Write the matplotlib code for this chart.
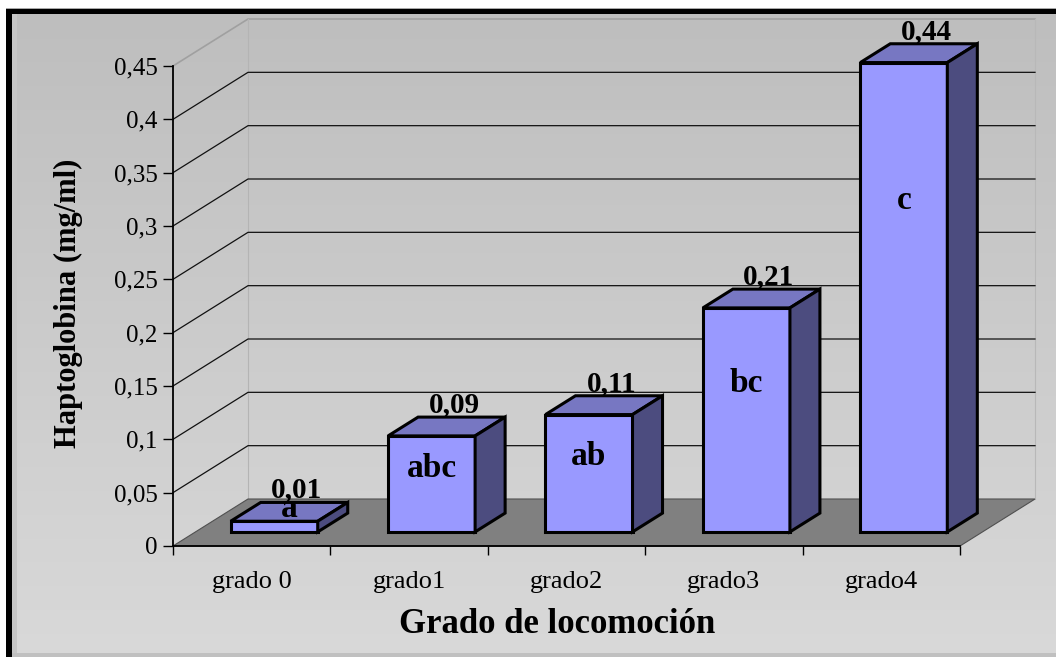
import numpy as np
import matplotlib
matplotlib.use("Agg")
import matplotlib.pyplot as plt
from matplotlib.patches import Polygon, Rectangle

# ---------------- data ----------------
categories = ["grado 0", "grado1", "grado2", "grado3", "grado4"]
values = [0.01, 0.09, 0.11, 0.21, 0.44]
value_labels = ["0,01", "0,09", "0,11", "0,21", "0,44"]
letters = ["a", "abc", "ab", "bc", "c"]
yticks = [0, 0.05, 0.1, 0.15, 0.2, 0.25, 0.3, 0.35, 0.4, 0.45]
ytick_labels = ["0", "0,05", "0,1", "0,15", "0,2", "0,25", "0,3", "0,35", "0,4", "0,45"]
y_title = "Haptoglobina (mg/ml)"
x_title = "Grado de locomoción"

# letter annotation anchors (depth plane, baseline height in data units)
letter_depth = [0.5, 0.3, 0.3, 0.3, 0.3]
letter_base = [0.005, 0.0516, 0.0628, 0.131, 0.303]

# ---------------- style / layout ----------------
W, H, DPI = 1056, 657, 100
SERIF = ["Liberation Serif", "DejaVu Serif"]
plt.rcParams["font.family"] = SERIF

fig = plt.figure(figsize=(W / DPI, H / DPI), dpi=DPI)
fig.patch.set_facecolor("white")

# background (gradient + frame)
bg = fig.add_axes([0, 0, 1, 1], zorder=0)
bg.set_xlim(0, W)
bg.set_ylim(H, 0)
bg.axis("off")
grad = np.linspace(0.745, 0.85, 256).reshape(-1, 1)
bg.imshow(np.dstack([grad, grad, grad]), extent=(12, W, 653, 13), aspect="auto",
          interpolation="bilinear")
bg.add_patch(Rectangle((12, 653), W - 12, 4, facecolor="#c0c0c0", edgecolor="none"))
bg.add_patch(Rectangle((12, 13), 5, 640, facecolor="#c6c6c6", edgecolor="none"))
bg.add_patch(Rectangle((6, 9), W - 6, 4.5, facecolor="black", edgecolor="none"))
bg.add_patch(Rectangle((6, 9), 6, H - 9, facecolor="black", edgecolor="none"))
bg.add_patch(Rectangle((6, 7.5), W - 6, 1.5, facecolor="#a8a8a8", edgecolor="none"))

# front plane of the 3D plot
L, R, B, T = 173, 960, 546, 66
ax = fig.add_axes([L / W, 1 - B / H, (R - L) / W, (B - T) / H], zorder=1)
ax.patch.set_visible(False)
ax.set_xlim(0, len(categories))
ax.set_ylim(0, 0.45)

# depth vector (full depth) in data units : 75 px right, 47 px up
DX = 75 * len(categories) / (R - L)
DY = 47 * 0.45 / (B - T)
PXY = 0.45 / (B - T)


def P(x, y, d):
    return (x + d * DX, y + d * DY)


# walls edges
ymax = yticks[-1]
ax.plot(*zip(P(0, ymax, 0), P(0, ymax, 1), P(len(categories), ymax, 1)),
        color="#a0a0a0", lw=1.2, clip_on=False, zorder=1)
ax.plot(*zip(P(0, 0, 1), P(0, ymax, 1)), color="#b4b4b4", lw=0.8, clip_on=False, zorder=1)
ax.plot(*zip(P(len(categories), 0, 1), P(len(categories), ymax, 1)),
        color="#b8b8b8", lw=0.8, clip_on=False, zorder=1)

# gridlines
for v in yticks[1:-1]:
    ax.plot(*zip(P(0, v, 0), P(0, v, 1), P(len(categories), v, 1)),
            color="#111111", lw=0.9, clip_on=False, zorder=1)

# floor
floor = Polygon([P(0, 0, 0), P(len(categories), 0, 0), P(len(categories), 0, 1), P(0, 0, 1)],
                closed=True, facecolor="#808080", edgecolor="#505050", lw=0.8,
                clip_on=False, zorder=2)
ax.add_patch(floor)

# bars
bw = 0.553
d0, d1 = 0.3, 0.7
front_c, top_c, side_c = "#9999ff", "#7777c2", "#4c4c7f"
for i, v in enumerate(values):
    c = i + 0.5
    xl, xr = c - bw / 2, c + bw / 2
    faces = [
        ([P(xl, 0, d0), P(xr, 0, d0), P(xr, v, d0), P(xl, v, d0)], front_c),
        ([P(xl, v, d0), P(xr, v, d0), P(xr, v, d1), P(xl, v, d1)], top_c),
        ([P(xr, 0, d0), P(xr, 0, d1), P(xr, v, d1), P(xr, v, d0)], side_c),
    ]
    for pts, col in faces:
        ax.add_patch(Polygon(pts, closed=True, facecolor=col, edgecolor="black",
                             lw=2.2, joinstyle="miter", clip_on=False, zorder=3 + i * 0.1))
    # value label
    lx = P(c, v, 0.6)[0]
    ly = P(c, v, d1)[1] + 5 * PXY
    ax.text(lx, ly, value_labels[i], ha="center", va="baseline", fontsize=21,
            fontweight="bold", color="black", zorder=6, clip_on=False)
    # letter label
    tx, ty = P(c, letter_base[i], letter_depth[i])
    ax.text(tx, ty, letters[i], ha="center", va="baseline", fontsize=24,
            fontweight="bold", color="black", zorder=6, clip_on=False)

# axes
for s in ["top", "right"]:
    ax.spines[s].set_visible(False)
for s in ["left", "bottom"]:
    ax.spines[s].set_color("black")
    ax.spines[s].set_linewidth(1.3)
    ax.spines[s].set_zorder(2.5)

ax.set_yticks(yticks)
ax.set_yticklabels(ytick_labels)
ax.tick_params(axis="y", length=7.2, width=1.0, direction="out", pad=4.0,
               labelsize=18, colors="black")

ax.set_xticks(range(len(categories) + 1))
ax.set_xticklabels([""] * (len(categories) + 1))
ax.set_xticks([i + 0.5 for i in range(len(categories))], minor=True)
ax.set_xticklabels(categories, minor=True)
ax.tick_params(axis="x", which="major", length=6.5, width=1.0, direction="out")
ax.tick_params(axis="x", which="minor", length=0, pad=18, labelsize=19)

# titles
fig.text(557 / W, 1 - 633 / H, x_title, ha="center", va="baseline", fontsize=25,
         fontweight="bold")
fig.text(68 / W, 1 - 303 / H, y_title, ha="center", va="center", rotation=90,
         fontsize=22, fontweight="bold")

fig.savefig("out.png", dpi=DPI)
